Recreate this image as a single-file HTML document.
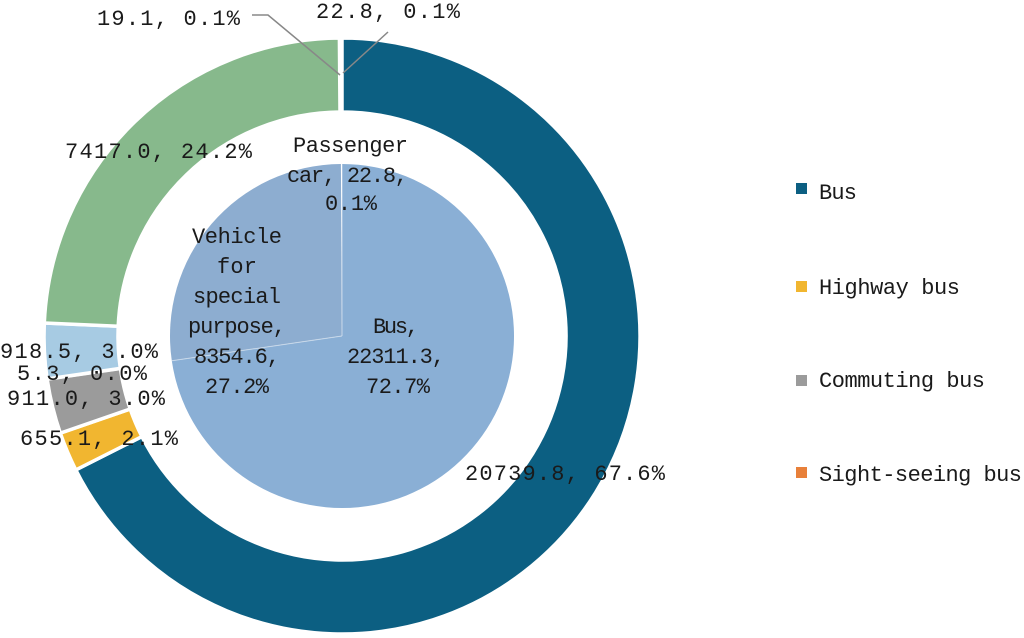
<!DOCTYPE html>
<html><head><meta charset="utf-8"><style>
html,body{margin:0;padding:0;background:#fff;}
svg text{font-family:"Liberation Mono","Noto Sans CJK SC",monospace;font-size:22px;fill:#1a1a1a;}
</style></head><body>
<svg width="1024" height="633" viewBox="0 0 1024 633" xmlns="http://www.w3.org/2000/svg">
<g stroke="#fff" stroke-width="3.5" stroke-linejoin="miter">
<path d="M342,38 A298,298 0 1 1 75.8,469.9 L141.9,436.6 A224,224 0 1 0 342,112 Z" fill="#0c5f82"/>
<path d="M75.8,469.9 A298,298 0 0 1 60.3,433.1 L130.2,409 A224,224 0 0 0 141.9,436.6 Z" fill="#f1b630"/>
<path d="M60.3,433.1 A298,298 0 0 1 47.2,379.2 L120.4,368.5 A224,224 0 0 0 130.2,409 Z" fill="#9b9b9b"/>
<path d="M47.1,379 A298,298 0 0 1 44.3,323 L118.2,326.2 A224,224 0 0 0 120.3,368.3 Z" fill="#a7cbe3"/>
<path d="M44.3,323 A298,298 0 0 1 339.4,38 L340,112 A224,224 0 0 0 118.2,326.2 Z" fill="#87b98c"/>
</g>
<path d="M342,336 L342,164 A172,172 0 1 1 171.8,360.8 Z" fill="#8aafd5"/>
<path d="M342,336 L171.8,360.8 A172,172 0 0 1 340.9,164 Z" fill="#8dadd0"/>
<g stroke="rgba(255,255,255,0.5)" stroke-width="1"><line x1="342" y1="336" x2="342" y2="164"/><line x1="342" y1="336" x2="171.8" y2="360.8"/></g>
<polyline points="252,15 268,15 340,75" fill="none" stroke="#888" stroke-width="1.5"/>
<polyline points="388,32 343,73" fill="none" stroke="#888" stroke-width="1.5"/>
<text x="97" y="25" textLength="143">19.1, 0.1%</text>
<text x="316" y="18" textLength="144">22.8, 0.1%</text>
<text x="65" y="158" textLength="187">7417.0, 24.2%</text>
<text x="293" y="152" textLength="115">Passenger</text>
<text x="287" y="182" textLength="121">car, 22.8,</text>
<text x="325" y="210" textLength="52">0.1%</text>
<g text-anchor="middle">
<text x="237" y="243" textLength="90">Vehicle</text>
<text x="237" y="273" textLength="40">for</text>
<text x="237" y="303" textLength="88">special</text>
<text x="237" y="333" textLength="98">purpose,</text>
<text x="237" y="363" textLength="86">8354.6,</text>
<text x="237" y="393" textLength="64">27.2%</text>
<text x="396" y="333" textLength="46">Bus,</text>
<text x="396" y="363" textLength="98">22311.3,</text>
<text x="398" y="393" textLength="64">72.7%</text>
</g>
<text x="0" y="358" textLength="158">918.5, 3.0%</text>
<text x="17" y="380" textLength="130">5.3, 0.0%</text>
<text x="7" y="405" textLength="158">911.0, 3.0%</text>
<text x="20" y="445" textLength="158">655.1, 2.1%</text>
<text x="465" y="480" textLength="200">20739.8, 67.6%</text>
<rect x="796" y="183" width="11" height="11" fill="#0c5f82"/>
<rect x="796" y="281" width="11" height="11" fill="#f1b630"/>
<rect x="796" y="375" width="11" height="11" fill="#9b9b9b"/>
<rect x="796" y="467" width="11" height="11" fill="#e8803a"/>
<text x="819" y="199" textLength="38">Bus</text>
<text x="819" y="294" textLength="141">Highway bus</text>
<text x="819" y="387" textLength="166">Commuting bus</text>
<text x="819" y="481" textLength="203">Sight-seeing bus</text>
</svg>
</body></html>
